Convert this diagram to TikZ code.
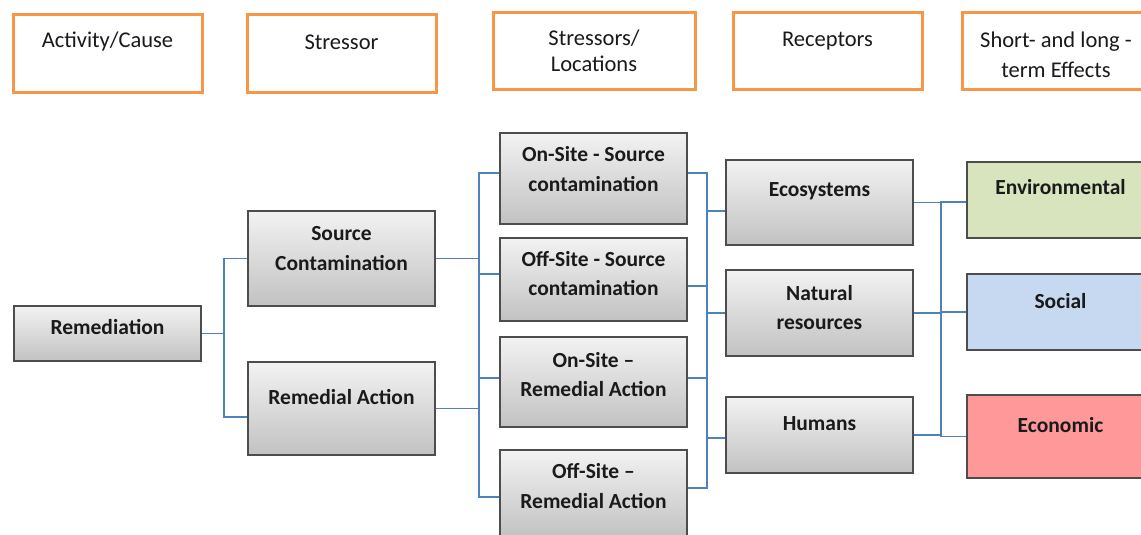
\documentclass[tikz,border=0pt]{standalone}
\usepackage{fontspec}
\setmainfont{Carlito}
\usetikzlibrary{shadows}
\definecolor{hdrorange}{HTML}{F79646}
\definecolor{linkblue}{HTML}{4F81BD}
\definecolor{envgreen}{HTML}{D7E4BD}
\definecolor{socblue}{HTML}{C6D9F1}
\definecolor{ecored}{HTML}{FF9999}
\definecolor{boxedge}{HTML}{4D4D4D}
\definecolor{inktext}{HTML}{1A1A1A}
\begin{document}
\begin{tikzpicture}[x=1pt,y=-1pt,
  header/.style={draw=hdrorange, line width=3pt, fill=white, inner sep=0pt,
    minimum width=189pt, minimum height=78pt},
  hdrtext/.style={font=\fontsize{22.5}{26}\selectfont, align=center, text=inktext},
  gbox/.style={draw=boxedge, line width=1.4pt, top color=gray!10, bottom color=gray!48,
    inner sep=0pt, minimum width=187pt,
    drop shadow={shadow xshift=1.2pt, shadow yshift=-1.2pt, opacity=0.35}},
  ebox/.style={draw=boxedge, line width=1.4pt, inner sep=0pt, minimum width=187pt,
    drop shadow={shadow xshift=1.2pt, shadow yshift=-1.2pt, opacity=0.35}},
  btext/.style={font=\bfseries\fontsize{21.5}{29.5}\selectfont, align=center, text=inktext},
  link/.style={draw=linkblue, line width=1.3pt},
]
\useasboundingbox (0,0) rectangle (1141,535);
\clip (0,0) rectangle (1141,535);

% column headers
\node[header] (h1) at (107.5,53.5) {};
\node[header] (h2) at (341.5,53.5) {};
\node[header, minimum width=202pt, minimum height=77pt] (h3) at (594,51.5) {};
\node[header, minimum height=77pt] (h4) at (827.5,51.5) {};
\node[header, minimum height=77pt] (h5) at (1056.5,51.5) {};
\node[hdrtext] (h1t) at (107.5,42) {Activity/Cause};
\node[hdrtext] (h2t) at (341.5,42) {Stressor};
\node[hdrtext] (h3t) at (594,51) {Stressors/\\Locations};
\node[hdrtext] (h4t) at (827.5,41) {Receptors};
\node[hdrtext, font=\fontsize{22.5}{30}\selectfont] (h5t) at (1056,54.5) {Short- and long -\\term Effects};

% activity and stressors
\node[gbox, minimum height=55pt] (rem) at (107.5,333.5) {};
\node[gbox, minimum height=95pt] (sc) at (341.5,258.5) {};
\node[gbox, minimum height=93pt] (ra) at (341.5,408.5) {};
\node[btext] at (107.5,327) {Remediation};
\node[btext] at (341.5,248.5) {Source\\Contamination};
\node[btext] at (341.5,397) {Remedial Action};

% locations
\node[gbox, minimum height=91pt] (onsc) at (593.5,178.5) {};
\node[gbox, minimum height=83pt] (offsc) at (593.5,279.5) {};
\node[gbox, minimum height=90pt] (onra) at (593.5,382) {};
\node[gbox, minimum height=88pt] (offra) at (593.5,494) {};
\node[btext] at (593.5,169) {On-Site - Source\\contamination};
\node[btext] at (593.5,273.5) {Off-Site - Source\\contamination};
\node[btext] at (593.5,374.5) {On-Site --\\Remedial Action};
\node[btext] at (593.5,486) {Off-Site --\\Remedial Action};

% receptors
\node[gbox, minimum height=85pt] (eco) at (819.5,202.5) {};
\node[gbox, minimum height=86pt] (nat) at (819.5,313) {};
\node[gbox, minimum height=76pt] (hum) at (819.5,435) {};
\node[btext] at (819.5,191) {Ecosystems};
\node[btext] at (819.5,307.5) {Natural\\resources};
\node[btext] at (819.5,424) {Humans};

% effects
\node[ebox, fill=envgreen, minimum height=76pt] (env) at (1060.5,200) {};
\node[ebox, fill=socblue, minimum height=76pt] (soc) at (1060.5,312) {};
\node[ebox, fill=ecored, minimum height=83pt] (econ) at (1060.5,436.5) {};
\node[btext] at (1060.5,187) {Environmental};
\node[btext] at (1060.5,301) {Social};
\node[btext] at (1060.5,425) {Economic};

% trunk positions of the elbow connectors
\coordinate (t1) at (224,0);
\coordinate (t2) at (479,0);
\coordinate (t3) at (707,0);
\coordinate (t4) at (941,0);

% ports where connectors meet the boxes
\coordinate (raW) at ([yshift=-8.5pt]ra.west);
\coordinate (onscW) at ([yshift=5.5pt]onsc.west);
\coordinate (offscW) at ([yshift=5.5pt]offsc.west);
\coordinate (onraW) at ([yshift=4pt]onra.west);
\coordinate (offraW) at ([yshift=-3pt]offra.west);
\coordinate (onscE) at ([yshift=5.5pt]onsc.east);
\coordinate (offscE) at ([yshift=-6.5pt]offsc.east);
\coordinate (onraE) at ([yshift=4pt]onra.east);
\coordinate (offraE) at ([yshift=6pt]offra.east);
\coordinate (ecoW) at ([yshift=-8.5pt]eco.west);
\coordinate (humW) at ([yshift=-3pt]hum.west);
\coordinate (envW) at ([yshift=-2pt]env.west);

% activity -> stressors
\foreach \c in {sc.west, raW}
  \draw[link] (rem.east) -- (rem.east -| t1) |- (\c);

% stressors -> locations
\foreach \p in {sc, ra}
  \foreach \c in {onscW, offscW, onraW, offraW}
    \draw[link] (\p.east) -- (\p.east -| t2) |- (\c);

% locations -> receptors
\foreach \p in {onscE, offscE, onraE, offraE}
  \foreach \c in {ecoW, nat.west, humW}
    \draw[link] (\p) -- (\p -| t3) |- (\c);

% receptors -> effects
\foreach \p in {eco, nat, hum}
  \foreach \c in {envW, soc.west, econ.west}
    \draw[link] (\p.east) -- (\p.east -| t4) |- (\c);
\end{tikzpicture}
\end{document}
